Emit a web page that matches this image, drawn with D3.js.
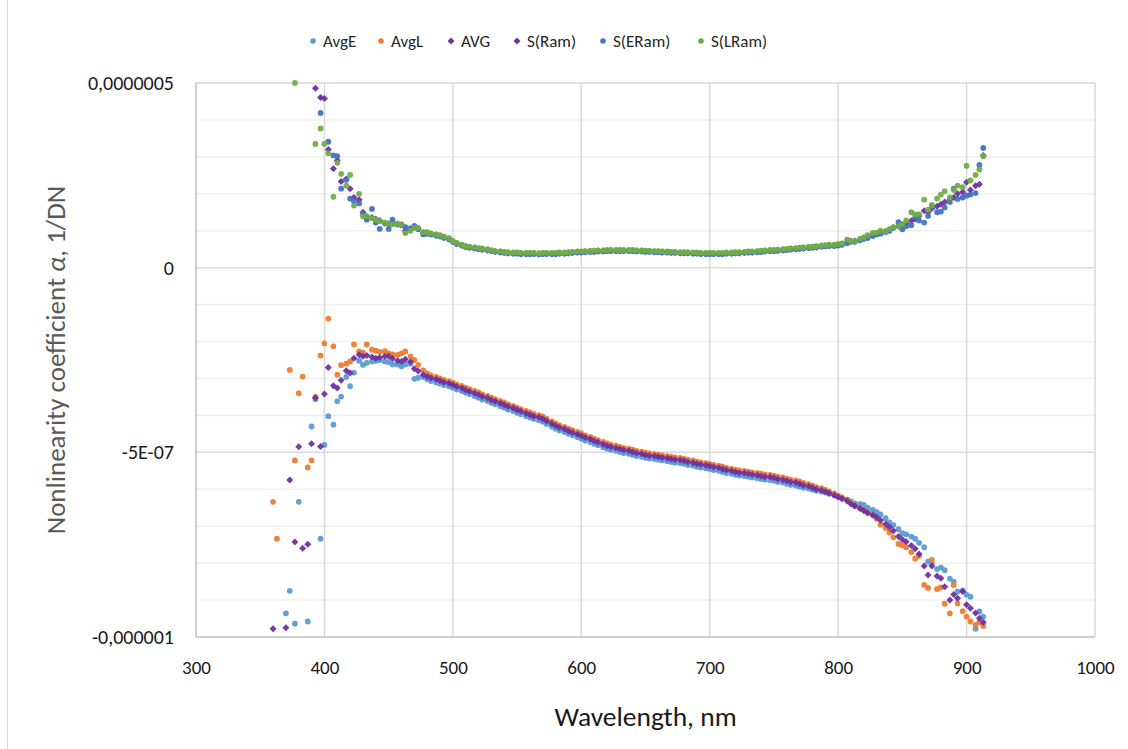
<!DOCTYPE html>
<html>
<head>
<meta charset="utf-8">
<script src="https://cdn.jsdelivr.net/npm/d3@7"></script>
<style>
  body { margin: 0; background: #fff; }
  text { font-family: Calibri, Carlito, Lato, sans-serif; }
</style>
</head>
<body>
<div id="viz"></div>
<script>
// values are in units of 1e-9 1/DN, null = off the chart
const UNIT = 1e-9;

const wavelengths = [
  360,363,367,370,373,377,380,383,387,390,393,397,400,403,407,
  410,413,417,420,423,427,430,433,437,440,443,447,450,453,457,
  460,463,467,470,473,477,480,483,487,490,493,497,500,503,507,
  510,513,517,520,523,527,530,533,537,540,543,547,550,553,557,
  560,563,567,570,573,577,580,583,587,590,593,597,600,603,607,
  610,613,617,620,623,627,630,633,637,640,643,647,650,653,657,
  660,663,667,670,673,677,680,683,687,690,693,697,700,703,707,
  710,713,717,720,723,727,730,733,737,740,743,747,750,753,757,
  760,763,767,770,773,777,780,783,787,790,793,797,800,803,807,
  810,813,817,820,823,827,830,833,837,840,843,847,850,853,857,
  860,863,867,870,873,877,880,883,887,890,893,897,900,903,907,
  910,913
];

const avgE = [
  null,null,null,-936,-875,-964,-634,null,-958,-430,-356,-734,-480,-402,-425,
  -362,-349,-296,-321,-284,-252,-263,-258,-254,-252,-250,-254,-256,-262,-262,
  -267,-262,-260,-301,-298,-296,-302,-307,-311,-314,-318,-321,-325,-330,-334,
  -339,-343,-348,-352,-357,-361,-366,-370,-375,-379,-384,-388,-393,-397,-402,
  -406,-410,-413,-417,-423,-430,-436,-441,-445,-450,-454,-459,-463,-468,-472,
  -477,-481,-486,-490,-493,-496,-499,-502,-504,-507,-510,-512,-515,-517,-518,
  -520,-522,-524,-526,-528,-529,-531,-534,-536,-539,-541,-543,-545,-548,-550,
  -553,-556,-558,-561,-563,-564,-566,-568,-570,-572,-574,-575,-577,-580,-582,
  -585,-588,-590,-593,-596,-598,-601,-604,-606,-609,-612,-616,-620,-624,-628,
  -633,-638,-640,-642,-650,-656,-662,-668,-678,-690,-697,-708,-719,-722,-728,
  -734,-745,-757,-796,-800,-816,-812,-819,-842,-850,-877,-874,-885,-891,-978,
  -931,-945
];

const avgL = [
  -634,-734,null,null,-277,-522,-340,-295,-541,-522,-350,-238,-205,-138,-213,
  -290,-264,-260,-254,-208,-227,-230,-208,-222,-225,-228,-226,-232,-235,-236,
  -232,-227,-240,-250,-263,-278,-286,-292,-296,-300,-304,-307,-311,-316,-320,
  -325,-329,-334,-338,-343,-347,-352,-356,-361,-365,-370,-374,-379,-383,-388,
  -392,-396,-399,-403,-409,-416,-422,-427,-431,-436,-440,-445,-449,-454,-458,
  -463,-467,-472,-476,-479,-482,-485,-488,-490,-493,-496,-498,-501,-503,-504,
  -506,-508,-510,-512,-514,-515,-517,-520,-522,-525,-527,-529,-531,-534,-536,
  -539,-542,-544,-547,-549,-550,-552,-554,-556,-558,-560,-561,-563,-566,-568,
  -571,-574,-576,-579,-583,-586,-590,-594,-597,-601,-606,-611,-617,-622,-628,
  -637,-645,-650,-656,-663,-670,-680,-696,-705,-717,-730,-748,-752,-757,-770,
  -788,-780,-859,-867,-791,-870,-866,-910,-936,-859,-909,-930,-945,-958,-967,
  -960,-970
];

const avg = [
  -978,null,null,-975,-575,-743,-485,-760,-749,-477,-352,-484,-342,-270,-320,
  -326,-305,-279,-285,-245,-236,-240,-238,-242,-245,-243,-240,-240,-246,-252,
  -254,-248,-255,-274,-280,-290,-295,-299,-302,-306,-310,-313,-317,-322,-326,
  -331,-335,-340,-344,-349,-353,-358,-362,-367,-371,-376,-380,-385,-389,-394,
  -398,-402,-405,-409,-415,-422,-428,-433,-437,-442,-446,-451,-455,-460,-464,
  -469,-473,-478,-482,-485,-488,-491,-494,-496,-499,-502,-504,-507,-509,-510,
  -512,-514,-516,-518,-520,-521,-523,-526,-528,-531,-533,-535,-537,-540,-542,
  -545,-548,-550,-553,-555,-556,-558,-560,-562,-564,-566,-567,-569,-572,-574,
  -577,-580,-582,-585,-589,-592,-596,-600,-603,-607,-611,-616,-621,-626,-632,
  -640,-645,-652,-658,-664,-670,-676,-684,-694,-703,-712,-728,-736,-742,-752,
  -761,-775,-808,-832,-808,-835,-841,-864,-900,-885,-895,-877,-913,-922,-935,
  -949,-960
];

const sRam = [
  null,null,null,null,null,null,null,null,null,null,486,461,458,320,268,
  290,233,240,214,190,184,150,138,136,132,128,120,118,122,118,
  116,100,104,110,106,94,94,91,88,86,82,78,71,66,61,
  57,55,53,51,50,48,46,44,43,41,40,39,39,38,38,
  38,38,37,38,38,38,38,39,39,40,41,42,42,43,44,
  44,45,45,46,46,46,46,46,46,46,45,45,44,44,43,
  43,42,42,41,41,40,40,40,39,39,38,38,38,38,38,
  38,39,39,40,40,41,42,42,43,44,45,46,46,47,48,
  49,50,51,52,53,54,55,56,58,59,60,60,62,64,70,
  72,72,76,80,84,88,92,96,98,102,108,112,116,120,127,
  132,140,154,150,160,166,172,178,185,190,200,205,231,210,222,
  226,304
];

const sERam = [
  null,null,null,null,null,null,null,null,null,null,null,419,null,341,304,
  302,214,238,187,180,174,146,130,159,122,105,120,105,130,117,
  115,110,106,113,104,90,92,90,87,85,81,77,70,64,60,
  56,54,52,50,49,47,45,43,41,40,39,38,38,37,37,
  37,37,36,37,37,37,37,38,38,39,40,41,41,42,43,
  43,44,44,45,45,45,45,45,45,45,44,44,43,43,42,
  42,41,41,40,40,39,39,39,38,38,37,37,37,37,37,
  37,38,38,39,39,40,41,41,42,43,44,45,45,46,47,
  48,49,50,51,52,53,54,55,57,58,59,59,60,62,66,
  70,70,74,78,80,86,90,92,96,100,108,123,104,112,115,
  137,128,122,140,166,150,152,163,178,214,186,190,195,198,202,
  278,324
];

const sLRam = [
  null,null,null,null,null,500,null,null,null,null,335,377,335,310,192,
  284,254,222,251,168,200,139,139,134,130,126,122,120,117,119,
  117,94,100,108,108,96,96,93,90,88,84,80,72,67,62,
  58,57,55,53,52,50,47,45,44,43,42,41,41,40,40,
  40,40,39,40,40,40,40,41,41,42,43,44,44,45,46,
  46,47,47,48,48,48,48,48,48,48,47,47,46,46,45,
  45,44,44,43,43,42,42,42,41,41,40,40,40,40,40,
  40,41,41,42,42,43,44,44,45,46,47,48,48,49,50,
  51,52,53,54,55,56,57,58,60,61,62,62,64,66,76,
  72,72,78,82,88,94,95,100,98,104,110,112,118,128,150,
  144,144,184,157,170,187,198,207,190,210,222,218,276,236,251,
  266,302
];

const seriesNames  = ["AvgE", "AvgL", "AVG", "S(Ram)", "S(ERam)", "S(LRam)"];
const seriesValues = [avgE, avgL, avg, sRam, sERam, sLRam];
const seriesColors = ["#5B9BD5", "#ED7D31", "#7030A0", "#7030A0", "#4472C4", "#70AD47"];
const seriesShapes = ["circle", "circle", "diamond", "diamond", "circle", "circle"];

const xTicks = [300, 400, 500, 600, 700, 800, 900, 1000];
const yTicks = [-1e-6, -5e-7, 0, 5e-7];
const yTickLabels = ["-0,000001", "-5E-07", "0", "0,0000005"];

const WIDTH = 1128, HEIGHT = 749;
const plot = { left: 196, right: 1095, top: 83, bottom: 637 };

const svg = d3.select("#viz").append("svg")
  .attr("width", WIDTH)
  .attr("height", HEIGHT);

svg.append("rect").attr("width", WIDTH).attr("height", HEIGHT).attr("fill", "#fff");
// chart area border (left edge visible)
svg.append("line")
  .attr("x1", 7.5).attr("x2", 7.5).attr("y1", 0).attr("y2", HEIGHT)
  .attr("stroke", "#d9d9d9").attr("stroke-width", 1);

const x = d3.scaleLinear().domain([300, 1000]).range([plot.left, plot.right]);
const y = d3.scaleLinear().domain([-1e-6, 5e-7]).range([plot.bottom, plot.top]);

// minor horizontal gridlines
const minor = d3.range(-10, 6).map(k => k * 1e-7).filter(v => !yTicks.some(t => Math.abs(t - v) < 1e-12));
svg.append("g").selectAll("line").data(minor).join("line")
  .attr("x1", plot.left).attr("x2", plot.right)
  .attr("y1", d => y(d)).attr("y2", d => y(d))
  .attr("stroke", "#f0f0f0").attr("stroke-width", 1.5);

// major gridlines
svg.append("g").selectAll("line").data(yTicks.slice(1)).join("line")
  .attr("x1", plot.left).attr("x2", plot.right)
  .attr("y1", d => y(d)).attr("y2", d => y(d))
  .attr("stroke", "#d9d9d9").attr("stroke-width", 1.5);
svg.append("g").selectAll("line").data(xTicks.slice(1)).join("line")
  .attr("x1", d => x(d)).attr("x2", d => x(d))
  .attr("y1", plot.top).attr("y2", plot.bottom)
  .attr("stroke", "#d9d9d9").attr("stroke-width", 1.5);

// axis lines
svg.append("line")
  .attr("x1", plot.left).attr("x2", plot.left).attr("y1", plot.top).attr("y2", plot.bottom)
  .attr("stroke", "#bfbfbf").attr("stroke-width", 1.5);
svg.append("line")
  .attr("x1", plot.left).attr("x2", plot.right).attr("y1", plot.bottom).attr("y2", plot.bottom)
  .attr("stroke", "#bfbfbf").attr("stroke-width", 1.5);

// tick labels
const xAxis = svg.append("g")
  .attr("transform", `translate(0,${plot.bottom})`)
  .call(d3.axisBottom(x).tickValues(xTicks).tickSize(0).tickPadding(24).tickFormat(d3.format("d")));
const yAxis = svg.append("g")
  .attr("transform", `translate(${plot.left},0)`)
  .call(d3.axisLeft(y).tickValues(yTicks).tickSize(0).tickPadding(22).tickFormat((d, i) => yTickLabels[i]));
xAxis.select(".domain").remove();
yAxis.select(".domain").remove();
xAxis.selectAll("text")
  .style("font-family", "Calibri, Carlito, Lato, sans-serif")
  .style("font-size", "19px")
  .attr("fill", "#1a1a1a");
yAxis.selectAll("text")
  .style("font-family", "Calibri, Carlito, Lato, sans-serif")
  .style("font-size", "20px")
  .attr("fill", "#1a1a1a");

function marker(shape, r) {
  if (shape === "diamond") return `M0,${-r}L${r},0L0,${r}L${-r},0Z`;
  return d3.symbol(d3.symbolCircle, Math.PI * r * r)();
}

// points
seriesValues.forEach((vals, s) => {
  const pts = wavelengths.map((w, i) => [w, vals[i]]).filter(p => p[1] !== null);
  const r = seriesShapes[s] === "diamond" ? 3.5 : 2.9;
  svg.append("g").selectAll("path").data(pts).join("path")
    .attr("transform", d => `translate(${x(d[0])},${y(d[1] * UNIT)})`)
    .attr("d", marker(seriesShapes[s], r))
    .attr("fill", seriesColors[s])
    .attr("opacity", 0.95);
});

// legend
const legendX = [313, 381, 451, 517, 603, 701];
const legend = svg.append("g").attr("transform", "translate(0,41)");
seriesNames.forEach((name, i) => {
  legend.append("path")
    .attr("transform", `translate(${legendX[i]},0)`)
    .attr("d", marker(seriesShapes[i], seriesShapes[i] === "diamond" ? 3.4 : 2.8))
    .attr("fill", seriesColors[i]);
  legend.append("text")
    .attr("x", legendX[i] + 10)
    .attr("y", 0)
    .attr("dy", "0.35em")
    .style("font-size", "17px")
    .attr("fill", "#262626")
    .text(name);
});

// axis titles
svg.append("text")
  .attr("x", (plot.left + plot.right) / 2)
  .attr("y", 726)
  .attr("text-anchor", "middle")
  .style("font-size", "27.5px")
  .attr("fill", "#1a1a1a")
  .text("Wavelength, nm");

const yTitle = svg.append("text")
  .attr("transform", `translate(65,${(plot.top + plot.bottom) / 2}) rotate(-90)`)
  .attr("text-anchor", "middle")
  .style("font-size", "27px")
  .attr("fill", "#595959");
yTitle.append("tspan").text("Nonlinearity coefficient ");
yTitle.append("tspan").style("font-style", "italic").text("α");
yTitle.append("tspan").text(", 1/DN");
</script>
</body>
</html>
